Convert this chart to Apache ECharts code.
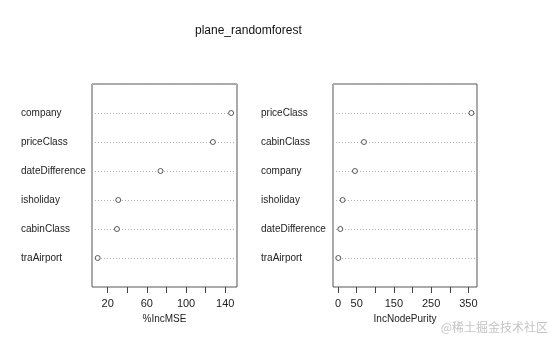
<!DOCTYPE html>
<html><head><meta charset="utf-8">
<script src="https://cdn.jsdelivr.net/npm/echarts@6/dist/echarts.min.js"></script>
<style>html,body{margin:0;padding:0;background:#fff}#c{width:551px;height:340px}</style>
</head><body><div id="c"></div>
<script>
// Panel 1: %IncMSE (rows listed bottom -> top)
var catsMSE = ['traAirport','cabinClass','isholiday','dateDifference','priceClass','company'];
var valsMSE = [9.8, 29.5, 30.8, 73.9, 127.4, 146];
var ticksMSE = [20,40,60,80,100,120,140];
var labelsMSE = [20,60,100,140];
// Panel 2: IncNodePurity (rows listed bottom -> top)
var catsNP = ['traAirport','dateDifference','isholiday','company','cabinClass','priceClass'];
var valsNP = [0.8, 6.2, 12.4, 45.5, 69.7, 358];
var ticksNP = [0,50,100,150,200,250,300,350];
var labelsNP = [0,50,150,250,350];

var FONT = 'Liberation Sans';
function pts(vals){ return vals.map(function(v,i){ return [v, i+1]; }); }
function yAxis(gi, cats){
  return {
    type:'value', gridIndex:gi, min:0, max:7, interval:1,
    axisLine:{show:false}, axisTick:{show:false},
    axisLabel:{
      align:'left', margin: gi===0 ? 71 : 72, color:'#222', fontSize:10, fontFamily:FONT,
      formatter:function(v){ return (v>=1 && v<=cats.length) ? cats[v-1] : ''; }
    },
    splitLine:{show:true, lineStyle:{type:[1,2], color:'#b0b0b0', width:1}}
  };
}
function xAxis(gi, min, max, ticks, labels, name){
  return {
    type:'value', gridIndex:gi, min:min, max:max,
    name:name, nameLocation:'middle', nameGap:26,
    nameTextStyle:{color:'#222', fontSize:10, fontFamily:FONT},
    axisLine:{show:false},
    axisTick:{show:true, length:6, lineStyle:{color:'#444'}, customValues:ticks},
    axisLabel:{color:'#222', fontSize:11, fontFamily:FONT, margin:11, customValues:labels},
    splitLine:{show:false}
  };
}
var chart = echarts.init(document.getElementById('c'), null, {renderer:'canvas'});
chart.setOption({
  animation:false,
  backgroundColor:'#fff',
  title:{text:'plane_randomforest', left:190, top:20,
    textStyle:{fontSize:12, fontWeight:'normal', color:'#111', fontFamily:FONT}},
  grid:[
    {left:92, top:84, width:145, height:203, show:true, borderColor:'#555', borderWidth:1, backgroundColor:'transparent'},
    {left:333, top:84, width:144, height:203, show:true, borderColor:'#555', borderWidth:1, backgroundColor:'transparent'}
  ],
  xAxis:[
    xAxis(0, 4, 152, ticksMSE, labelsMSE, '%IncMSE'),
    xAxis(1, -13.4, 373, ticksNP, labelsNP, 'IncNodePurity')
  ],
  yAxis:[ yAxis(0, catsMSE), yAxis(1, catsNP) ],
  series:[
    {type:'scatter', xAxisIndex:0, yAxisIndex:0, data:pts(valsMSE), symbol:'circle', symbolSize:5,
     itemStyle:{color:'#fff', borderColor:'#333', borderWidth:1}},
    {type:'scatter', xAxisIndex:1, yAxisIndex:1, data:pts(valsNP), symbol:'circle', symbolSize:5,
     itemStyle:{color:'#fff', borderColor:'#333', borderWidth:1}}
  ],
  graphic:[
    {type:'text', right:3, top:321, style:{text:'@稀土掘金技术社区', fill:'#c4c4c4', fontSize:12, fontFamily:'Noto Sans CJK SC'}}
  ]
});
</script></body></html>
